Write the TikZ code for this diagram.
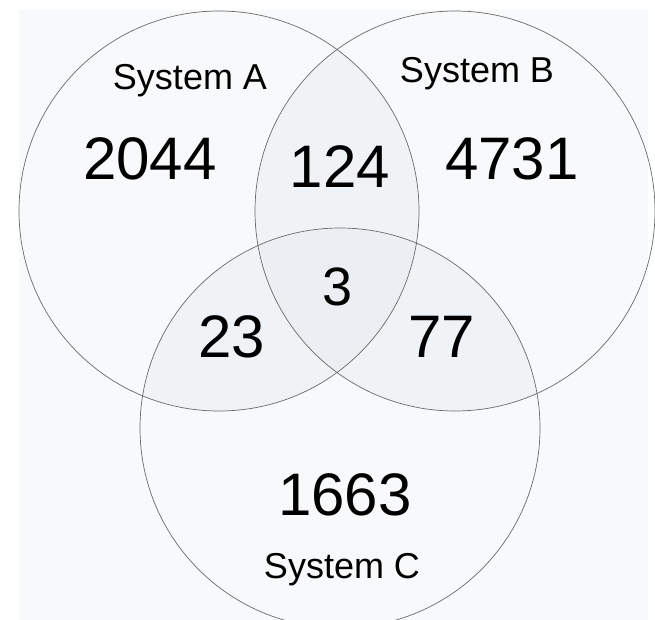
\documentclass[tikz,border=0pt]{standalone}
\usepackage{fontspec}
\setmainfont{Liberation Sans}
\definecolor{bgfill}{HTML}{F8F9FA}
\definecolor{pairfill}{HTML}{F0F3F6}
\definecolor{triplefill}{HTML}{EBEFF3}
\definecolor{edge}{HTML}{6A6A6A}
\tikzset{
  ring/.style={draw=edge, line width=0.7pt},
  bignum/.style={anchor=base, inner sep=0pt, font=\fontsize{60}{70}\selectfont},
  midnum/.style={anchor=base, inner sep=0pt, font=\fontsize{54}{64}\selectfont},
  setlabel/.style={anchor=base, inner sep=0pt, font=\fontsize{36}{42}\selectfont},
}
\begin{document}
\begin{tikzpicture}[x=1pt,y=-1pt]
\useasboundingbox (0,0) rectangle (655,620);
\fill[bgfill] (19,10) rectangle (648,620);
\coordinate (cA) at (219,211);
\coordinate (cB) at (455,211);
\coordinate (cC) at (340,428);
% pairwise overlaps
\begin{scope}
  \clip (cA) circle[radius=200];
  \fill[pairfill] (cB) circle[radius=200];
  \fill[pairfill] (cC) circle[radius=200];
\end{scope}
\begin{scope}
  \clip (cB) circle[radius=200];
  \fill[pairfill] (cC) circle[radius=200];
\end{scope}
\begin{scope}
  \clip (cA) circle[radius=200];
  \clip (cB) circle[radius=200];
  \fill[triplefill] (cC) circle[radius=200];
\end{scope}
\begin{scope}
  \clip (0,0) rectangle (655,620);
  \draw[ring] (cA) circle[radius=200];
  \draw[ring] (cB) circle[radius=200];
  \draw[ring] (cC) circle[radius=200];
\end{scope}
\node[setlabel] (labA) at (190,90) {System A};
\node[setlabel] (labB) at (477,83) {System B};
\node[setlabel] (labC) at (342,578) {System C};
\node[bignum] (nA) at (150,180) {2044};
\node[bignum] (nAB) at (340,188) {124};
\node[bignum] (nB) at (512,180) {4731};
\node[midnum] (nABC) at (338,305) {3};
\node[bignum] (nAC) at (232,357) {23};
\node[bignum] (nBC) at (442,357) {77};
\node[bignum] (nC) at (345,515) {1663};
\end{tikzpicture}
\end{document}
